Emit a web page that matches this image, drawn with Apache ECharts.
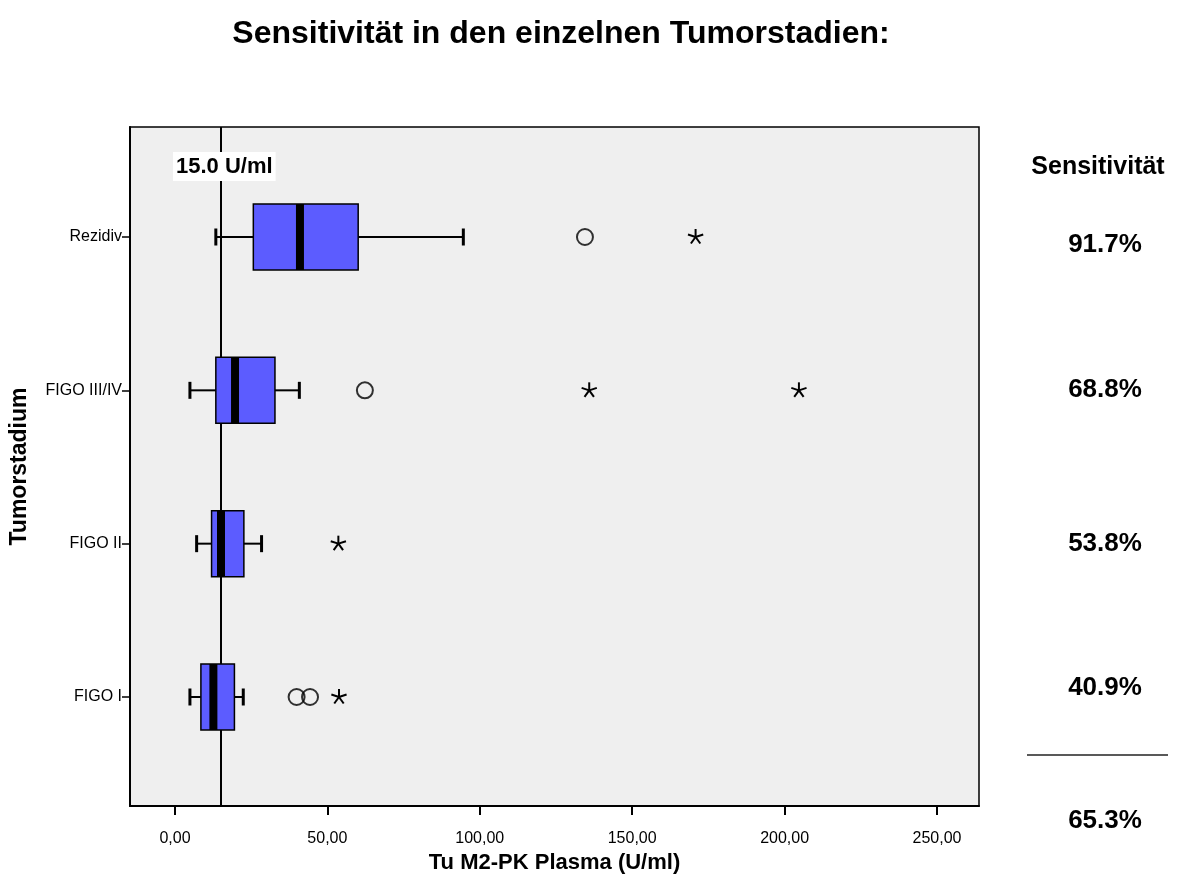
<!DOCTYPE html>
<html>
<head>
<meta charset="utf-8">
<script src="https://cdn.jsdelivr.net/npm/echarts@6/dist/echarts.min.js"></script>
<style>
html,body{margin:0;padding:0;background:#fff;}
#chart{width:1181px;height:877px;}
</style>
</head>
<body>
<div id="chart"></div>
<script>
// ---- data ----
const categories = ['FIGO I', 'FIGO II', 'FIGO III/IV', 'Rezidiv'];
const whiskerLow  = [4.9, 7.1, 4.9, 13.4];
const q1          = [8.5, 12.0, 13.4, 25.7];
const median      = [12.6, 15.1, 19.7, 41.0];
const q3          = [19.5, 22.6, 32.8, 60.1];
const whiskerHigh = [22.4, 28.4, 40.8, 94.6];
const circleOutliers = [[0, 39.9], [0, 44.3], [2, 62.3], [3, 134.5]]; // [category index, value]
const starOutliers   = [[0, 53.8], [1, 53.6], [2, 135.9], [2, 204.7], [3, 170.8]];
const cutoff = 15.0;
const xTickValues = [0, 50, 100, 150, 200, 250];
const sensitivity = ['40.9%', '53.8%', '68.8%', '91.7%'];
const overallSensitivity = '65.3%';
const titleText = 'Sensitivität in den einzelnen Tumorstadien:';
const xTitle = 'Tu M2-PK Plasma (U/ml)';
const yTitle = 'Tumorstadium';
const sensTitle = 'Sensitivität';

// ---- build ----
const boxData = categories.map((c, i) => [i, whiskerLow[i], q1[i], median[i], q3[i], whiskerHigh[i]]);
const FONT = '"Liberation Sans", Arial, sans-serif';

const chart = echarts.init(document.getElementById('chart'), null, {renderer: 'canvas'});

function renderBox(params, api) {
  const y = api.value(0);
  const pL = api.coord([api.value(1), y]);
  const p1 = api.coord([api.value(2), y]);
  const pM = api.coord([api.value(3), y]);
  const p3 = api.coord([api.value(4), y]);
  const pH = api.coord([api.value(5), y]);
  const cy = pL[1];
  const hh = 33, cap = 8.5;
  const black = '#000';
  return {
    type: 'group',
    children: [
      {type: 'line', shape: {x1: pL[0], y1: cy, x2: p1[0], y2: cy}, style: {stroke: black, lineWidth: 2}},
      {type: 'line', shape: {x1: p3[0], y1: cy, x2: pH[0], y2: cy}, style: {stroke: black, lineWidth: 2}},
      {type: 'line', shape: {x1: pL[0], y1: cy - cap, x2: pL[0], y2: cy + cap}, style: {stroke: black, lineWidth: 3}},
      {type: 'line', shape: {x1: pH[0], y1: cy - cap, x2: pH[0], y2: cy + cap}, style: {stroke: black, lineWidth: 3}},
      {type: 'rect', shape: {x: p1[0], y: cy - hh, width: p3[0] - p1[0], height: 2 * hh}, style: {fill: '#5c5cff', stroke: black, lineWidth: 1.5}},
      {type: 'rect', shape: {x: pM[0] - 4, y: cy - hh, width: 8, height: 2 * hh}, style: {fill: black}}
    ]
  };
}

function renderStar(params, api) {
  const p = api.coord([api.value(1), api.value(0)]);
  const r = 8;
  const kids = [];
  for (let k = 0; k < 5; k++) {
    const a = -Math.PI / 2 + k * 2 * Math.PI / 5;
    kids.push({type: 'line', shape: {x1: p[0], y1: p[1], x2: p[0] + r * Math.cos(a), y2: p[1] + r * Math.sin(a)},
               style: {stroke: '#000', lineWidth: 2}});
  }
  return {type: 'group', children: kids};
}

const option = {
  backgroundColor: '#ffffff',
  animation: false,
  title: {
    text: titleText,
    left: 556, top: 13, textAlign: 'center',
    textStyle: {fontFamily: FONT, fontWeight: 'bold', fontSize: 32, color: '#000'}
  },
  grid: {
    left: 130, right: 202, top: 127, bottom: 71,
    outerBoundsMode: 'none', containLabel: false,
    show: true, backgroundColor: '#efefef', borderColor: '#000', borderWidth: 1.5
  },
  xAxis: {
    type: 'value',
    min: -14.76, max: 263.78,
    splitLine: {show: false},
    axisLine: {show: true, onZero: false, lineStyle: {color: '#000', width: 2}},
    axisTick: {show: true, length: 9, customValues: xTickValues, lineStyle: {color: '#000', width: 2}},
    axisLabel: {
      customValues: xTickValues, margin: 25,
      fontFamily: FONT, fontSize: 16, color: '#000',
      formatter: v => v.toFixed(2).replace('.', ',')
    },
    name: xTitle, nameLocation: 'middle', nameGap: 43,
    nameTextStyle: {fontFamily: FONT, fontWeight: 'bold', fontSize: 22, color: '#000'}
  },
  yAxis: {
    type: 'value',
    min: -0.7109, max: 3.7174,
    splitLine: {show: false},
    axisLine: {show: true, onZero: false, lineStyle: {color: '#000', width: 2}},
    axisTick: {show: true, length: 8, customValues: [0, 1, 2, 3], lineStyle: {color: '#000', width: 1.5}},
    axisLabel: {
      customValues: [0, 1, 2, 3], margin: 8,
      fontFamily: FONT, fontSize: 16, color: '#000',
      formatter: v => categories[Math.round(v)] || ''
    },
    name: yTitle, nameLocation: 'middle', nameGap: 99, nameRotate: 90,
    nameTextStyle: {fontFamily: FONT, fontWeight: 'bold', fontSize: 23, color: '#000'}
  },
  series: [
    {
      type: 'custom',
      name: 'box',
      renderItem: renderBox,
      encode: {x: [1, 2, 3, 4, 5], y: 0},
      data: boxData,
      z: 3,
      markLine: {
        silent: true, symbol: 'none',
        lineStyle: {color: '#000', width: 2, type: 'solid'},
        label: {show: false},
        data: [{xAxis: cutoff}],
        z: 2
      }
    },
    {
      type: 'scatter',
      name: 'outlier',
      data: circleOutliers.map(d => [d[1], d[0]]),
      symbol: 'circle', symbolSize: 16,
      itemStyle: {color: 'rgba(0,0,0,0)', borderColor: '#000', borderWidth: 2},
      z: 4
    },
    {
      type: 'custom',
      name: 'extreme',
      renderItem: renderStar,
      encode: {x: 1, y: 0},
      data: starOutliers,
      z: 4
    }
  ],
  graphic: [
    {type: 'text', left: 173, top: 152, z: 10,
     style: {text: cutoff.toFixed(1) + ' U/ml', font: 'bold 22px ' + FONT, fill: '#000',
             backgroundColor: '#fff', padding: [4, 3, 3, 3]}},
    {type: 'text', x: 1098, y: 167, z: 10,
     style: {text: sensTitle, font: 'bold 25px ' + FONT, fill: '#000', align: 'center', verticalAlign: 'middle'}},
    {type: 'text', x: 1105, y: 245, style: {text: sensitivity[3], font: 'bold 26px ' + FONT, fill: '#000', align: 'center', verticalAlign: 'middle'}},
    {type: 'text', x: 1105, y: 390, style: {text: sensitivity[2], font: 'bold 26px ' + FONT, fill: '#000', align: 'center', verticalAlign: 'middle'}},
    {type: 'text', x: 1105, y: 544, style: {text: sensitivity[1], font: 'bold 26px ' + FONT, fill: '#000', align: 'center', verticalAlign: 'middle'}},
    {type: 'text', x: 1105, y: 688, style: {text: sensitivity[0], font: 'bold 26px ' + FONT, fill: '#000', align: 'center', verticalAlign: 'middle'}},
    {type: 'line', shape: {x1: 1027, y1: 755, x2: 1168, y2: 755}, style: {stroke: '#222', lineWidth: 1.5}},
    {type: 'text', x: 1105, y: 821, style: {text: overallSensitivity, font: 'bold 26px ' + FONT, fill: '#000', align: 'center', verticalAlign: 'middle'}}
  ]
};
chart.setOption(option);
</script>
</body>
</html>
